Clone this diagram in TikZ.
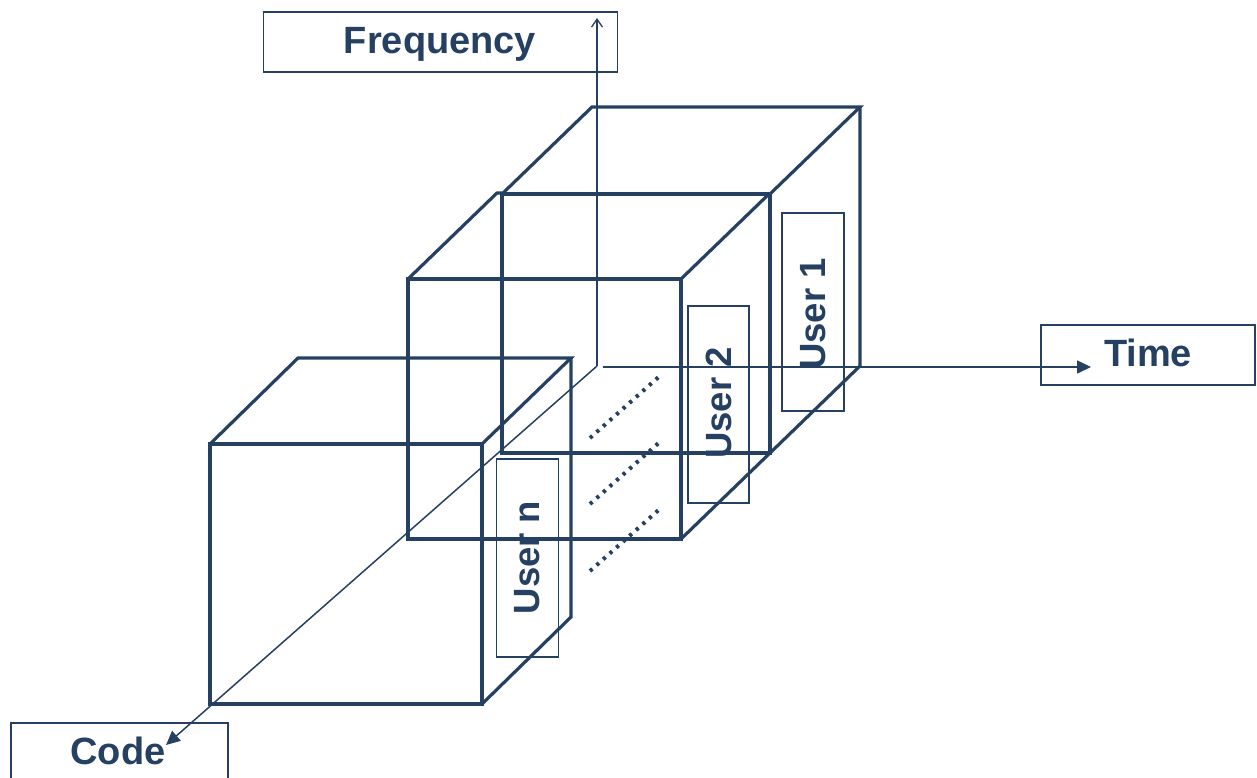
\documentclass[tikz,border=0pt]{standalone}
\usepackage{fontspec}
\setmainfont{Liberation Sans}
\usetikzlibrary{arrows.meta}
\definecolor{navy}{RGB}{38,64,98}
\begin{document}
\begin{tikzpicture}[x=1pt,y=-1pt,
  cube/.style={draw=navy,line width=3.2pt,line join=miter},
  axis/.style={draw=navy,line width=1.5pt},
  labelbox/.style={draw=navy,line width=1.7pt,rectangle,inner sep=0pt},
  userbox/.style={draw=navy,line width=1.5pt,rectangle,inner sep=0pt},
  labeltext/.style={text=navy,font=\fontsize{38}{40}\selectfont\bfseries,inner sep=0pt},
  usertext/.style={text=navy,font=\fontsize{36.5}{40}\selectfont\bfseries,inner sep=0pt,rotate=90},
  dots/.style={draw=navy,line width=4pt,dash pattern=on 3.2pt off 5.6pt}
]
\useasboundingbox (0,0) rectangle (1257,778);
\begin{scope}
\clip (0,0) rectangle (1257,778);
% label boxes
\node[labelbox,minimum width=354pt,minimum height=60pt] (fbox) at (440.5,42) {};
\node[labelbox,minimum width=214pt,minimum height=60pt] (tbox) at (1148,355) {};
\node[labelbox,minimum width=217pt,minimum height=70pt] (cbox) at (119.5,758) {};
\end{scope}
\node[labeltext,anchor=base] (ftext) at (440,54) {Frequency};
\node[labeltext,anchor=base] (ttext) at (1148,366) {Time};
\node[labeltext,anchor=base] (ctext) at (118,764) {Code};

% cube 1 (back)
\draw[cube] (502,453) -- (502,194) -- (770,194) -- (770,453) -- cycle;
\draw[cube] (502,194) -- (592,107) -- (860,107) -- (770,194);
\draw[cube] (860,107) -- (860,366) -- (770,453);
% cube 2 (middle)
\draw[cube] (408,539) -- (408,279) -- (681,279) -- (681,539) -- cycle;
\draw[cube] (408,279) -- (497,193) -- (502,193);
\draw[cube] (681,279) -- (770,193);
\draw[cube] (681,539) -- (770,453);
% cube 3 (front)
\draw[cube] (210,704) -- (210,444) -- (482,444) -- (482,704) -- cycle;
\draw[cube] (210,444) -- (298,358) -- (571,358) -- (482,444);
\draw[cube] (571,358) -- (571,617) -- (482,704);

% axes
\coordinate (o) at (597,366);
\coordinate (ot) at (603,367);
\coordinate (fend) at (597,18);
\coordinate (tend) at (1091,367);
\coordinate (cend) at (166,745);
\draw[axis,-{Straight Barb[length=8pt,width=11pt,line width=1.3pt]}] (o) -- (fend);
\draw[axis,-{Triangle[length=14pt,width=13pt]}] (ot) -- (tend);
\draw[axis,-{Triangle[length=14pt,width=13pt]}] (o) -- (cend);

% user boxes
\node[userbox,minimum width=62pt,minimum height=198pt] (u1box) at (813,312) {};
\node[userbox,minimum width=61pt,minimum height=197pt] (u2box) at (718.5,404.5) {};
\node[userbox,minimum width=62pt,minimum height=198pt] (unbox) at (527.5,558) {};
\node[usertext] (u1) at (813,314) {User 1};
\node[usertext] (u2) at (718.5,403) {User 2};
\node[usertext] (un) at (527.5,557.5) {User n};

% dotted lines
\coordinate (d1a) at (590,438); \coordinate (d1b) at (662,374);
\coordinate (d2a) at (590,504); \coordinate (d2b) at (662,440);
\coordinate (d3a) at (590,571); \coordinate (d3b) at (662,507);
\draw[dots] (d1a) -- (d1b);
\draw[dots] (d2a) -- (d2b);
\draw[dots] (d3a) -- (d3b);
\end{tikzpicture}
\end{document}
